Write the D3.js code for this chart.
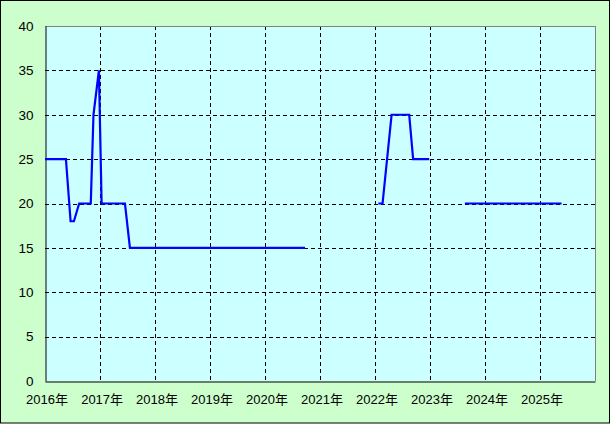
<!DOCTYPE html>
<html><head><meta charset="utf-8">
<script src="https://cdn.jsdelivr.net/npm/d3@7"></script>
<style>body{margin:0;padding:0;background:#fff;}svg{display:block;}</style>
</head><body>
<svg id="c" width="610" height="424"></svg>
<script>
// data
const dates = ["2016-01-01","2016-05-19","2016-06-19","2016-07-11","2016-08-15","2016-10-31","2016-11-18","2016-12-24","2017-01-11","2017-06-15","2017-07-18","2020-09-23",
  "2021-06-01",
  "2022-01-23","2022-02-20","2022-04-21","2022-08-16","2022-09-11","2022-12-27",
  "2023-05-01",
  "2023-08-21","2025-05-24"];
const values = [25,25,18,18,20,20,30,35,20,20,15,15,
  null,
  20,20,30,30,25,25,
  null,
  20,20];
const yTicks = [0,5,10,15,20,25,30,35,40];
const xYears = [2016,2017,2018,2019,2020,2021,2022,2023,2024,2025];
const xLabels = xYears.map(y => y + "年");

const W = 610, H = 424;
const m = {left:45, top:26, right:595, bottom:381};
const svg = d3.select("#c");
svg.append("rect").attr("x",0.5).attr("y",0.5).attr("width",W-1).attr("height",H-1.5)
  .attr("fill","#CCFFCC").attr("stroke","#000").attr("stroke-width",1);

const parse = d3.timeParse("%Y-%m-%d");
const x = d3.scaleTime().domain([new Date(2016,0,1), new Date(2026,0,1)]).range([m.left, m.right]);
const y = d3.scaleLinear().domain([0,40]).range([m.bottom, m.top]);

svg.append("rect").attr("x",m.left).attr("y",m.top).attr("width",m.right-m.left).attr("height",m.bottom-m.top)
  .attr("fill","#CCFFFF");

// grid
const g = svg.append("g").attr("stroke","#000").attr("stroke-width",1).attr("stroke-dasharray","4,3").attr("shape-rendering","crispEdges");
yTicks.filter(v => v>0 && v<40).forEach(v => {
  g.append("line").attr("x1",m.left).attr("x2",m.right).attr("y1",Math.round(y(v))+0.5).attr("y2",Math.round(y(v))+0.5);
});
xYears.filter(v => v>2016).forEach(v => {
  const xx = Math.round(x(new Date(v,0,1)))+0.5;
  g.append("line").attr("x1",xx).attr("x2",xx).attr("y1",m.top).attr("y2",m.bottom);
});

// borders
svg.append("line").attr("x1",m.left).attr("x2",m.right).attr("y1",m.top+0.5).attr("y2",m.top+0.5).attr("stroke","#808080");
svg.append("line").attr("x1",m.right+0.5).attr("x2",m.right+0.5).attr("y1",m.top).attr("y2",m.bottom).attr("stroke","#808080");

// axes
const yAxis = d3.axisLeft(y).tickValues(yTicks).tickSize(0).tickPadding(12);
const ya = svg.append("g").attr("transform",`translate(${m.left+0.5},0)`).call(yAxis);
ya.select(".domain").attr("stroke","#000");
ya.selectAll("text").attr("font-family","Liberation Sans, Arial, sans-serif").attr("font-size","13.5px").attr("fill","#000");

const xAxis = d3.axisBottom(x).tickValues(xYears.map(v => new Date(v,0,1))).tickSize(0).tickPadding(13)
  .tickFormat((d,i) => xLabels[i]);
const xa = svg.append("g").attr("transform",`translate(0,${m.bottom+0.5})`).call(xAxis);
xa.select(".domain").attr("stroke","#000");
xa.selectAll("text").attr("font-family","Liberation Sans, Noto Sans CJK JP, sans-serif").attr("font-size","13px").attr("fill","#000").attr("dx","1.5");

// line
const data = dates.map((d,i) => ({d: parse(d), v: values[i]}));
const line = d3.line().defined(p => p.v !== null).x(p => x(p.d)).y(p => y(p.v));
svg.append("path").datum(data).attr("d", line).attr("fill","none").attr("stroke","#0000FF").attr("stroke-width",2.2);
</script>
</body></html>
